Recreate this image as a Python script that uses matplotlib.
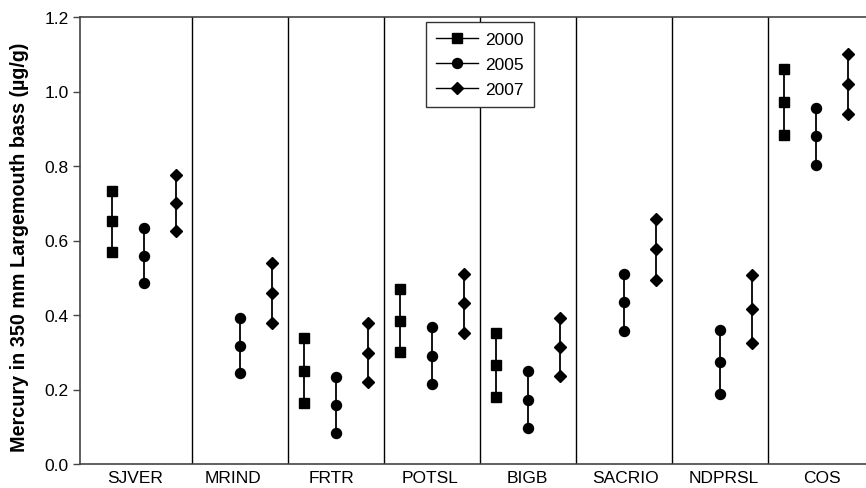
import numpy as np
import matplotlib
matplotlib.use("Agg")
import matplotlib.pyplot as plt
from matplotlib.lines import Line2D

plt.rcParams['font.family'] = ['Liberation Sans', 'DejaVu Sans']

sites = ["SJVER", "MRIND", "FRTR", "POTSL", "BIGB", "SACRIO", "NDPRSL", "COS"]
years = ["2000", "2005", "2007"]
nan = np.nan
mean_2000 = [0.652, nan, 0.251, 0.385, 0.266, nan, nan, 0.972]
err_2000 = [0.082, nan, 0.086, 0.085, 0.085, nan, nan, 0.088]
mean_2005 = [0.559, 0.317, 0.158, 0.291, 0.173, 0.434, 0.274, 0.880]
err_2005 = [0.074, 0.074, 0.076, 0.077, 0.077, 0.077, 0.086, 0.077]
mean_2007 = [0.701, 0.459, 0.299, 0.432, 0.315, 0.576, 0.416, 1.020]
err_2007 = [0.075, 0.080, 0.080, 0.079, 0.078, 0.081, 0.091, 0.080]
y_ticks = [0.0, 0.2, 0.4, 0.6, 0.8, 1.0, 1.2]

means = [mean_2000, mean_2005, mean_2007]
errs = [err_2000, err_2005, err_2007]
markers = ['s', 'o', 'D']
msizes = [7, 7.2, 6]

W, H = 866, 489
fig = plt.figure(figsize=(W / 100, H / 100), dpi=100)
ax = fig.add_axes([80 / W, (H - 465) / H, 800 / W, 447 / H])

n = len(sites)
for j, yr in enumerate(years):
    x = np.arange(n) * 3 + 1 + j
    m = np.array(means[j], dtype=float)
    e = np.array(errs[j], dtype=float)
    ax.errorbar(x, m, yerr=e, fmt='none', ecolor='black', elinewidth=1.3, capsize=0, zorder=2)
    for yy in (m - e, m, m + e):
        ax.plot(x, yy, linestyle='none', marker=markers[j], ms=msizes[j],
                color='black', zorder=3)

for i in range(n - 1):
    ax.axvline(3 * i + 3.5, color='black', lw=1.0, zorder=1)

ax.set_xlim(0, 25)
ax.set_ylim(0, 1.2)
ax.set_yticks(y_ticks)
ax.set_yticklabels([f"{v:.1f}" for v in y_ticks], fontsize=12.5)
ax.set_xticks(1.73 + 3.065 * np.arange(n))
ax.set_xticklabels(sites, fontsize=12.5)
ax.tick_params(axis='x', length=0, pad=4)
ax.tick_params(axis='y', length=5, width=1.0, color='#444444', pad=3, direction='out')
for s in ['top', 'bottom', 'left', 'right']:
    ax.spines[s].set_color('#444444')
    ax.spines[s].set_linewidth(1.2)

ax.set_ylabel("Mercury in 350 mm Largemouth bass (µg/g)", fontsize=14.2,
              fontweight='bold')
ax.yaxis.set_label_coords(-0.064, 0.488)

handles = [Line2D([], [], color='black', lw=1.0, marker=markers[j], ms=msizes[j])
           for j in range(3)]
leg = fig.legend(handles, years, loc='upper left', bbox_to_anchor=(425.7 / W, (H - 22.7) / H),
                 bbox_transform=fig.transFigure, fontsize=12.5, frameon=True,
                 fancybox=False, framealpha=1, edgecolor='#333333', borderaxespad=0,
                 handlelength=2.4, handletextpad=0.4, labelspacing=0.55, borderpad=0.6)
leg.get_frame().set_linewidth(1.0)

fig.savefig("out.png", dpi=100)
